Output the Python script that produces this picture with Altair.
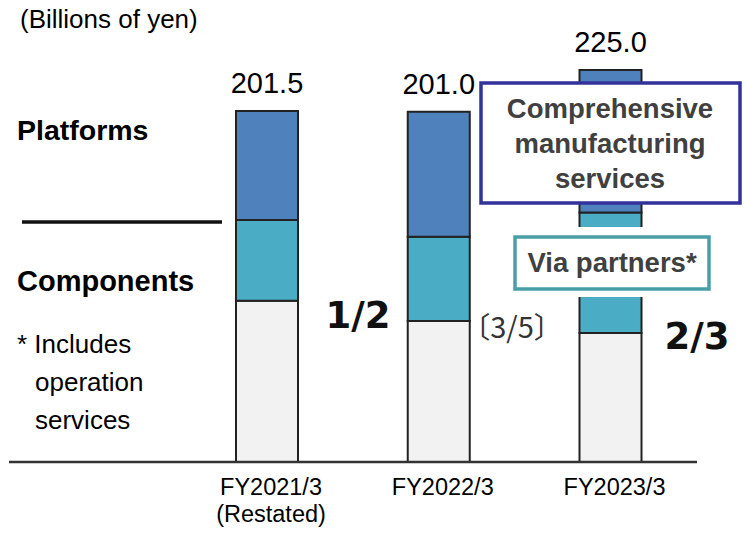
import altair as alt
import pandas as pd

# ---- data ----
categories = ["FY2021/3", "FY2022/3", "FY2023/3"]
cat_labels = ["FY2021/3\n(Restated)", "FY2022/3", "FY2023/3"]
components = [92.6, 80.9, 74.1]      # light grey (bottom)
via_partners = [46.3, 48.4, 69.1]    # teal (middle)
platforms = [62.6, 71.7, 81.8]       # blue (top)
totals = [201.5, 201.0, 225.0]
total_labels = ["201.5", "201.0", "225.0"]
segments = ["Components", "Via partners", "Platforms"]
seg_colors = ["#F2F2F2", "#4BACC6", "#4F81BD"]

rows = []
for i, c in enumerate(categories):
    base = 0.0
    for s, vals in zip(segments, [components, via_partners, platforms]):
        rows.append({"cat": c, "seg": s, "y0": base, "y1": base + vals[i]})
        base += vals[i]
bars_df = pd.DataFrame(rows)
tot_df = pd.DataFrame({"cat": categories, "total": totals, "label": total_labels})
lab_df = pd.DataFrame({"cat": categories, "label": cat_labels})

W, H = 750, 533
FONT = "Liberation Sans"

xscale = alt.Scale(domain=categories, range=[236, 641.5], paddingInner=0.639, paddingOuter=0)
yscale = alt.Scale(domain=[0, 225], range=[462, 70], nice=False, zero=True)

bars = alt.Chart(bars_df).mark_bar(stroke="#222222", strokeWidth=2).encode(
    x=alt.X("cat:N", scale=xscale, axis=None, sort=categories),
    y=alt.Y("y0:Q", scale=yscale, axis=None),
    y2="y1:Q",
    color=alt.Color("seg:N", scale=alt.Scale(domain=segments, range=seg_colors), legend=None),
)

values = alt.Chart(tot_df).mark_text(font=FONT, fontSize=29, dy=-27, baseline="middle", color="#000000").encode(
    x=alt.X("cat:N", scale=xscale, axis=None, sort=categories),
    y=alt.Y("total:Q", scale=yscale, axis=None),
    text="label:N",
)

xlabels = alt.Chart(lab_df).mark_text(font=FONT, fontSize=23.5, dx=4, baseline="top", lineBreak="\n",
                                      lineHeight=27, color="#000000").encode(
    x=alt.X("cat:N", scale=xscale, axis=None, sort=categories),
    y=alt.value(476),
    text="label:N",
)

baseline_rule = alt.Chart(pd.DataFrame({"v": [0]})).mark_rule(color="#333333", strokeWidth=2.5).encode(
    x=alt.value(9), x2=alt.value(697),
    y=alt.Y("v:Q", scale=yscale, axis=None),
)

one = pd.DataFrame({"a": [0]})


def txt(text, x, y, size, bold=False, color="#000000", align="left", font=FONT):
    return alt.Chart(one).mark_text(
        text=text, font=font, fontSize=size, fontWeight="bold" if bold else "normal",
        color=color, align=align, baseline="middle",
    ).encode(x=alt.value(x), y=alt.value(y))


def box(x1, x2, y1, y2, stroke=None, sw=0, fill="white"):
    kw = dict(fill=fill)
    if stroke:
        kw.update(stroke=stroke, strokeWidth=sw)
    return alt.Chart(one).mark_rect(**kw).encode(
        x=alt.value(x1), x2=alt.value(x2), y=alt.value(y1), y2=alt.value(y2))


divider = alt.Chart(one).mark_rule(color="#111111", strokeWidth=3.5).encode(
    x=alt.value(22), x2=alt.value(222), y=alt.value(222))

layers = [
    bars,
    baseline_rule,
    values,
    xlabels,
    divider,
    txt("(Billions of yen)", 20, 20, 26),
    txt("Platforms", 17, 131, 28.5, bold=True),
    txt("Components", 17, 282, 29, bold=True),
    txt("* Includes", 17, 345, 26),
    txt("operation", 35, 383, 26),
    txt("services", 35, 421, 26),
    txt("1/2", 358, 317, 37, bold=True, color="#111111", align="center", font="DejaVu Sans"),
    txt("2/3", 697, 338, 37, bold=True, color="#111111", align="center", font="DejaVu Sans"),
    txt("〔3/5〕", 512, 329, 29, color="#333333", align="center", font="Noto Sans CJK JP"),
    box(481, 740, 83, 203, stroke="#32329A", sw=3.5),
    txt("Comprehensive", 610, 110, 27.5, bold=True, color="#404040", align="center"),
    txt("manufacturing", 610, 145, 27.5, bold=True, color="#404040", align="center"),
    txt("services", 610, 180, 27.5, bold=True, color="#404040", align="center"),
    box(505, 719, 227, 297),
    box(515, 709, 237, 289, stroke="#4A9EA6", sw=3.5),
    txt("Via partners*", 612, 264, 27.5, bold=True, color="#404040", align="center"),
]

chart = alt.layer(*layers).properties(
    width=W, height=H,
    padding=0,
    autosize=alt.AutoSizeParams(type="none"),
).configure_view(stroke=None)

chart.save("out.html", embed_options={"renderer": "svg", "actions": False})
